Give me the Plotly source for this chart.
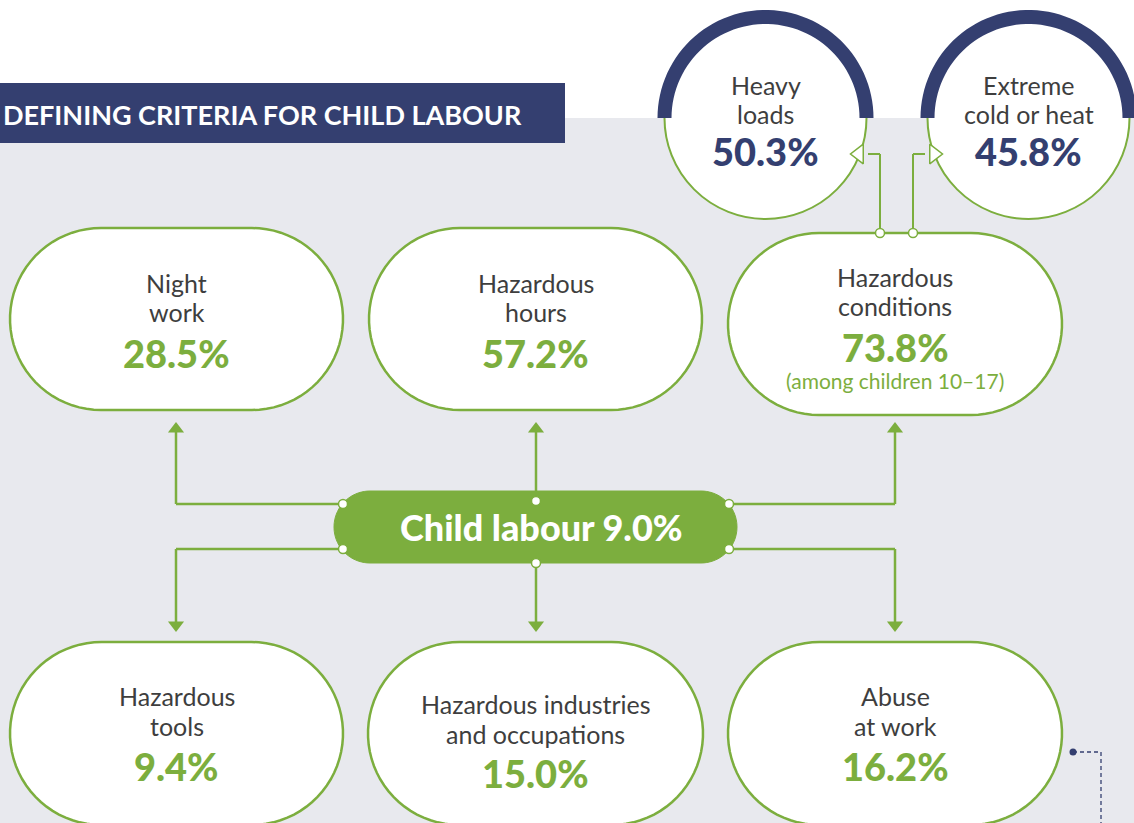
import numpy as np
import plotly.graph_objects as go

# ---------------- data ----------------
title_text = "DEFINING CRITERIA FOR CHILD LABOUR"
headline_label = "Child labour"
headline_value = 9.0

criteria_lines = [
    ["Night", "work"],
    ["Hazardous", "hours"],
    ["Hazardous", "conditions"],
    ["Hazardous", "tools"],
    ["Hazardous industries", "and occupations"],
    ["Abuse", "at work"],
]
criteria_values = [28.5, 57.2, 73.8, 9.4, 15.0, 16.2]
criteria_notes = ["", "", "(among children 10–17)", "", "", ""]

sub_lines = [["Heavy", "loads"], ["Extreme", "cold or heat"]]
sub_values = [50.3, 45.8]

# ---------------- layout (pixel space) ----------------
W, H = 1134, 823
GREEN = "#7CAE3E"
NAVY = "#343F70"
GREY = "#E8E9EE"
DARK = "#3E3E3E"
FONT = "Lato"

pill_x0 = [10, 369, 728, 10, 368, 728]
pill_x1 = [343, 702, 1062, 343, 703, 1062]
pill_y0 = [228, 228, 233, 642, 642, 642]
pill_y1 = [410, 410, 415, 825, 825, 825]
label_y = [[283, 312], [283, 312], [277, 306], [696, 726], [704, 734], [696, 726]]
value_y = [353, 353, 347, 766, 773, 766]
note_y = [None, None, 380, None, None, None]

circ_cx = [765.5, 1028.5]
circ_cy = 118
circ_r = 101
circ_label_y = [[85, 114], [85, 114]]
circ_value_y = 151


def stadium(x0, x1, y0, y1, n=40):
    r = (y1 - y0) / 2
    cy = (y0 + y1) / 2
    pts = []
    for t in np.linspace(-np.pi / 2, np.pi / 2, n):
        pts.append((x1 - r + r * np.cos(t), cy + r * np.sin(t)))
    for t in np.linspace(np.pi / 2, 3 * np.pi / 2, n):
        pts.append((x0 + r + r * np.cos(t), cy + r * np.sin(t)))
    return "M " + " L ".join(f"{x:.2f},{y:.2f}" for x, y in pts) + " Z"


def half_ring(cx, cy, r_in, r_out, n=60):
    pts = []
    for t in np.linspace(np.pi, 2 * np.pi, n):
        pts.append((cx + r_out * np.cos(t), cy + r_out * np.sin(t)))
    for t in np.linspace(2 * np.pi, np.pi, n):
        pts.append((cx + r_in * np.cos(t), cy + r_in * np.sin(t)))
    return "M " + " L ".join(f"{x:.2f},{y:.2f}" for x, y in pts) + " Z"


shapes = []
shapes.append(dict(type="rect", x0=0, x1=W, y0=118, y1=H + 5, fillcolor=GREY, line_width=0, layer="below"))
shapes.append(dict(type="rect", x0=-5, x1=565, y0=83, y1=143, fillcolor=NAVY, line_width=0, layer="below"))

for cx in circ_cx:
    shapes.append(dict(type="circle", x0=cx - circ_r, x1=cx + circ_r, y0=circ_cy - circ_r, y1=circ_cy + circ_r,
                       fillcolor="white", line=dict(color=GREEN, width=2), layer="below"))
    shapes.append(dict(type="path", path=half_ring(cx, circ_cy, 94, 108), fillcolor=NAVY, line_width=0, layer="below"))


def seg(xa, ya, xb, yb, color=GREEN, width=2.5, dash="solid"):
    shapes.append(dict(type="line", x0=xa, y0=ya, x1=xb, y1=yb, line=dict(color=color, width=width, dash=dash), layer="below"))


cxs = [(a + b) / 2 for a, b in zip(pill_x0, pill_x1)]
seg(343, 504, 176, 504); seg(176, 504, 176, 432)
seg(536, 500, 536, 432)
seg(729, 504, 895, 504); seg(895, 504, 895, 432)
seg(343, 549, 176, 549); seg(176, 549, 176, 622)
seg(536, 563, 536, 622)
seg(729, 549, 895, 549); seg(895, 549, 895, 622)
seg(880, 233, 880, 154, width=2); seg(880, 154, 868, 154, width=2)
seg(913, 233, 913, 154, width=2); seg(913, 154, 925, 154, width=2)

for x0, x1, y0, y1 in zip(pill_x0, pill_x1, pill_y0, pill_y1):
    shapes.append(dict(type="path", path=stadium(x0, x1, y0, y1), fillcolor="white",
                       line=dict(color=GREEN, width=2.5), layer="below"))
shapes.append(dict(type="path", path=stadium(334, 737, 491, 563), fillcolor=GREEN,
                   line=dict(color=GREEN, width=1), layer="below"))

seg(1073, 752, 1101, 752, color=NAVY, width=1.3, dash="4px,3px")
seg(1101, 752, 1101, H + 5, color=NAVY, width=1.3, dash="4px,3px")

fig = go.Figure()

fig.add_trace(go.Scatter(x=[176, 536, 895], y=[429, 429, 429], mode="markers",
                         marker=dict(symbol="triangle-up", size=14, color=GREEN, line_width=0),
                         hoverinfo="skip", showlegend=False))
fig.add_trace(go.Scatter(x=[176, 536, 895], y=[625, 625, 625], mode="markers",
                         marker=dict(symbol="triangle-down", size=14, color=GREEN, line_width=0),
                         hoverinfo="skip", showlegend=False))
fig.add_trace(go.Scatter(x=[859], y=[154], mode="markers",
                         marker=dict(symbol="triangle-left", size=17, color="white", line=dict(color=GREEN, width=1.5)),
                         hoverinfo="skip", showlegend=False))
fig.add_trace(go.Scatter(x=[934], y=[154], mode="markers",
                         marker=dict(symbol="triangle-right", size=17, color="white", line=dict(color=GREEN, width=1.5)),
                         hoverinfo="skip", showlegend=False))
fig.add_trace(go.Scatter(x=[343, 343, 729, 729, 536, 536, 880, 913], y=[504, 549, 504, 549, 501, 563, 233, 233],
                         mode="markers", marker=dict(symbol="circle", size=9, color="white", line=dict(color=GREEN, width=1.5)),
                         hoverinfo="skip", showlegend=False))
fig.add_trace(go.Scatter(x=[1073], y=[752], mode="markers", marker=dict(size=7, color=NAVY),
                         hoverinfo="skip", showlegend=False))

ann = []
ann.append(dict(x=0, y=114, xshift=1, text=title_text, showarrow=False, xanchor="left", yanchor="middle",
                font=dict(family=FONT, size=27, color="white", weight=700)))
ann.append(dict(x=541, y=527, text=f"{headline_label} {headline_value:.1f}%", showarrow=False,
                xanchor="center", yanchor="middle", font=dict(family=FONT, size=36, color="white", weight=900)))
for i, lines in enumerate(criteria_lines):
    for ln, yy in zip(lines, label_y[i]):
        ann.append(dict(x=cxs[i], y=yy, text=ln, showarrow=False, xanchor="center", yanchor="middle",
                        font=dict(family=FONT, size=25, color=DARK, weight=400)))
    ann.append(dict(x=cxs[i], y=value_y[i], text=f"{criteria_values[i]:.1f}%", showarrow=False,
                    xanchor="center", yanchor="middle", font=dict(family=FONT, size=38, color=GREEN, weight=900)))
    if criteria_notes[i]:
        ann.append(dict(x=cxs[i], y=note_y[i], text=criteria_notes[i], showarrow=False, xanchor="center",
                        yanchor="middle", font=dict(family=FONT, size=21, color=GREEN, weight=400)))
for i, lines in enumerate(sub_lines):
    for ln, yy in zip(lines, circ_label_y[i]):
        ann.append(dict(x=circ_cx[i], y=yy, text=ln, showarrow=False, xanchor="center", yanchor="middle",
                        font=dict(family=FONT, size=25, color=DARK, weight=400)))
    ann.append(dict(x=circ_cx[i], y=circ_value_y, text=f"{sub_values[i]:.1f}%", showarrow=False,
                    xanchor="center", yanchor="middle", font=dict(family=FONT, size=38, color=NAVY, weight=900)))

fig.update_layout(
    width=W, height=H, margin=dict(l=0, r=0, t=0, b=0),
    paper_bgcolor="white", plot_bgcolor="white",
    xaxis=dict(range=[0, W], visible=False, fixedrange=True),
    yaxis=dict(range=[H, 0], visible=False, fixedrange=True),
    shapes=shapes, annotations=ann, showlegend=False,
)
fig.write_html("out.html", config={"displayModeBar": False},
               post_script="document.body.style.margin='0';document.body.style.overflow='hidden';")
